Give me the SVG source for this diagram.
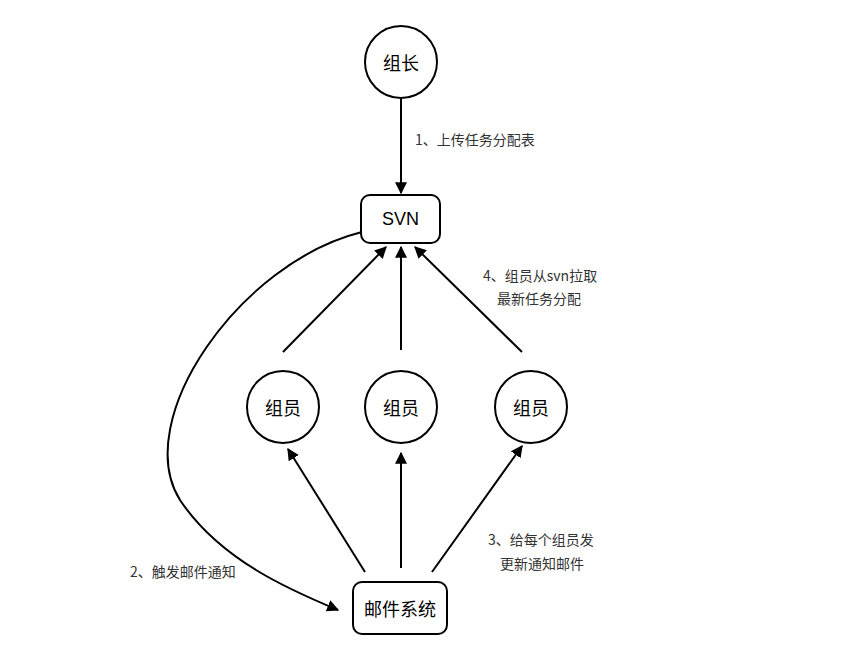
<svg xmlns="http://www.w3.org/2000/svg" width="846" height="654" viewBox="0 0 846 654">
<style>
.n{fill:#fff;stroke:#000;stroke-width:2}
.t{font-family:"Noto Sans CJK SC",sans-serif;font-size:18px;text-anchor:middle;dominant-baseline:central;fill:#000}
.l{font-family:"Noto Sans CJK SC",sans-serif;font-size:14px;fill:#333}
.c{fill:none;stroke:#000;stroke-width:2;marker-end:url(#a)}
</style>
<defs><marker id="a" viewBox="0 0 10 10" refX="9" refY="5" markerWidth="6" markerHeight="6" orient="auto" markerUnits="strokeWidth"><path d="M0,0L10,5L0,10z" fill="#000"/></marker></defs>
<rect width="846" height="654" fill="#fff"/>
<g id="connectors">
<path class="c" d="M401,98V193"/>
<path class="c" d="M283,352L386,247"/>
<path class="c" d="M401,350V247"/>
<path class="c" d="M522,352L415,247"/>
<path class="c" d="M365,572L288,449"/>
<path class="c" d="M401,568V453"/>
<path class="c" d="M432,572L522,446"/>
<path class="c" d="M362,232C240,262 130,420 180,500C220,560 290,590 338,610"/>
</g>
<g id="leader"><circle class="n" cx="401" cy="62" r="36"/><text class="t" x="401" y="62">组长</text></g>
<g id="svn"><rect class="n" x="361" y="195" width="79" height="48" rx="9"/><text class="t" x="400.5" y="219" style="font-family:'Liberation Sans',sans-serif">SVN</text></g>
<g id="m1"><circle class="n" cx="283" cy="407" r="36"/><text class="t" x="283" y="407">组员</text></g>
<g id="m2"><circle class="n" cx="401" cy="407" r="36"/><text class="t" x="401" y="407">组员</text></g>
<g id="m3"><circle class="n" cx="531" cy="407" r="36"/><text class="t" x="531" y="407">组员</text></g>
<g id="mail"><rect class="n" x="353" y="582" width="94" height="52" rx="9"/><text class="t" x="400" y="608">邮件系统</text></g>
<g id="labels">
<text class="l" x="415" y="145">1、上传任务分配表</text>
<text class="l" x="483" y="281">4、组员从svn拉取</text>
<text class="l" x="497" y="304">最新任务分配</text>
<text class="l" x="488" y="545">3、给每个组员发</text>
<text class="l" x="500" y="569">更新通知邮件</text>
<text class="l" x="130" y="577">2、触发邮件通知</text>
</g>
</svg>
